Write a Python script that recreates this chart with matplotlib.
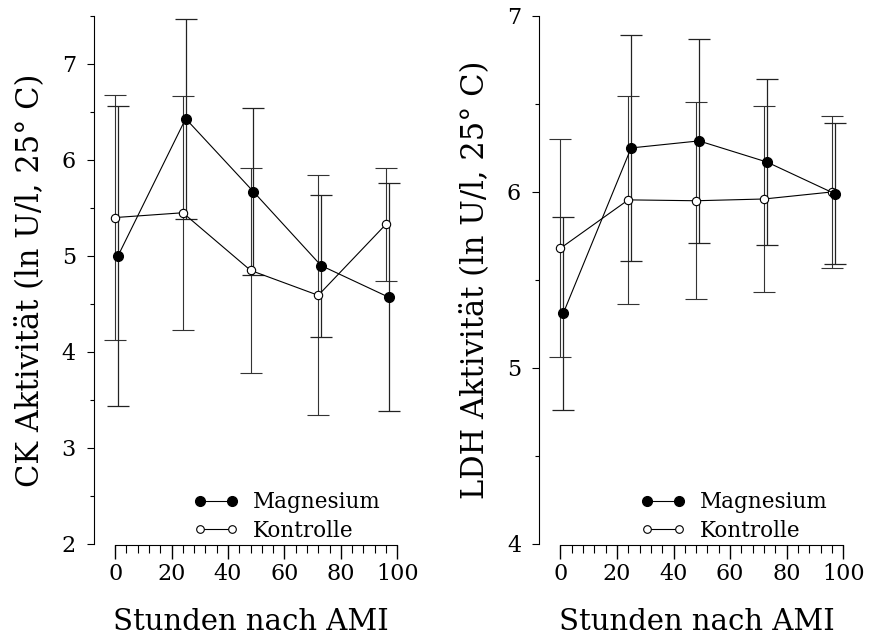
"""CK and LDH activity after AMI, Magnesium vs Kontrolle, two panels."""
import matplotlib
matplotlib.use("Agg")
import matplotlib.pyplot as plt
from matplotlib.lines import Line2D
from matplotlib.ticker import MultipleLocator, FixedLocator

# sampling times (hours after AMI); Magnesium points sit slightly to the right
hours_mg = [1, 25, 49, 73, 97]
hours_k = [0, 24, 48, 72, 96]

ck_mg = [5.00, 6.43, 5.67, 4.90, 4.57]
ck_mg_err = [1.56, 1.04, 0.87, 0.74, 1.19]
ck_k = [5.40, 5.45, 4.85, 4.59, 5.33]
ck_k_err = [1.28, 1.22, 1.07, 1.25, 0.59]

ldh_mg = [5.31, 6.25, 6.29, 6.17, 5.99]
ldh_mg_err = [0.55, 0.64, 0.58, 0.47, 0.40]
ldh_k = [5.68, 5.955, 5.95, 5.96, 6.00]
ldh_k_err = [0.62, 0.59, 0.56, 0.53, 0.43]

plt.rcParams["font.family"] = ["DejaVu Serif"]
fig = plt.figure(figsize=(8.81, 6.37), dpi=100)
axL = fig.add_axes([0.1067, 0.146, 0.357, 0.829])
axR = fig.add_axes([0.612, 0.146, 0.358, 0.829])

def panel(ax, mg, mg_err, k, k_err, ylim, ylabel, leg_x):
    ax.errorbar(hours_k, k, yerr=k_err, fmt="-o", color="black", lw=0.8,
                ms=6, mfc="white", mec="black", mew=0.8,
                ecolor="#333333", elinewidth=0.8, capsize=8, capthick=0.9)
    ax.errorbar(hours_mg, mg, yerr=mg_err, fmt="-o", color="black", lw=0.8,
                ms=7, mfc="black", mec="black",
                ecolor="#222222", elinewidth=0.9, capsize=8, capthick=0.9)
    ax.set_xlim(-7.5, 104)
    ax.set_ylim(*ylim)
    for s in ("top", "right"):
        ax.spines[s].set_visible(False)
    ax.spines["bottom"].set_bounds(0, 100)
    ax.spines["bottom"].set_position(("outward", 1))
    ax.xaxis.set_major_locator(MultipleLocator(20))
    ax.xaxis.set_minor_locator(FixedLocator(range(0, 101, 4)))
    ax.yaxis.set_major_locator(MultipleLocator(1))
    ax.yaxis.set_minor_locator(MultipleLocator(0.5))
    ax.tick_params(axis="x", which="major", length=10, width=1, labelsize=16, pad=3)
    ax.tick_params(axis="x", which="minor", length=6, width=0.8)
    ax.tick_params(axis="y", which="major", length=5, width=0.8, labelsize=16, pad=8)
    ax.tick_params(axis="y", which="minor", length=3, width=0.8)
    ax.set_xlabel("Stunden nach AMI", fontsize=21, labelpad=16)
    ax.set_ylabel(ylabel, fontsize=22, labelpad=12)
    handles = [
        Line2D([], [], color="black", lw=0.8, marker="o", ms=7, mfc="black"),
        Line2D([], [], color="black", lw=0.8, marker="o", ms=5.5, mfc="white", mew=0.8),
    ]
    ax.legend(handles, ["Magnesium", "Kontrolle"], loc="lower left",
              bbox_to_anchor=(leg_x, 0.004), frameon=False, fontsize=15.5,
              borderaxespad=0, borderpad=0,
              handlelength=2.1, handletextpad=0.67, labelspacing=0.3,
              numpoints=2)

panel(axL, ck_mg, ck_mg_err, ck_k, ck_k_err, (2, 7.5),
      "CK Aktivität (ln U/l, 25° C)", 0.316)
panel(axR, ldh_mg, ldh_mg_err, ldh_k, ldh_k_err, (4, 7),
      "LDH Aktivität (ln U/l, 25° C)", 0.321)

fig.savefig("out.png", dpi=100)
